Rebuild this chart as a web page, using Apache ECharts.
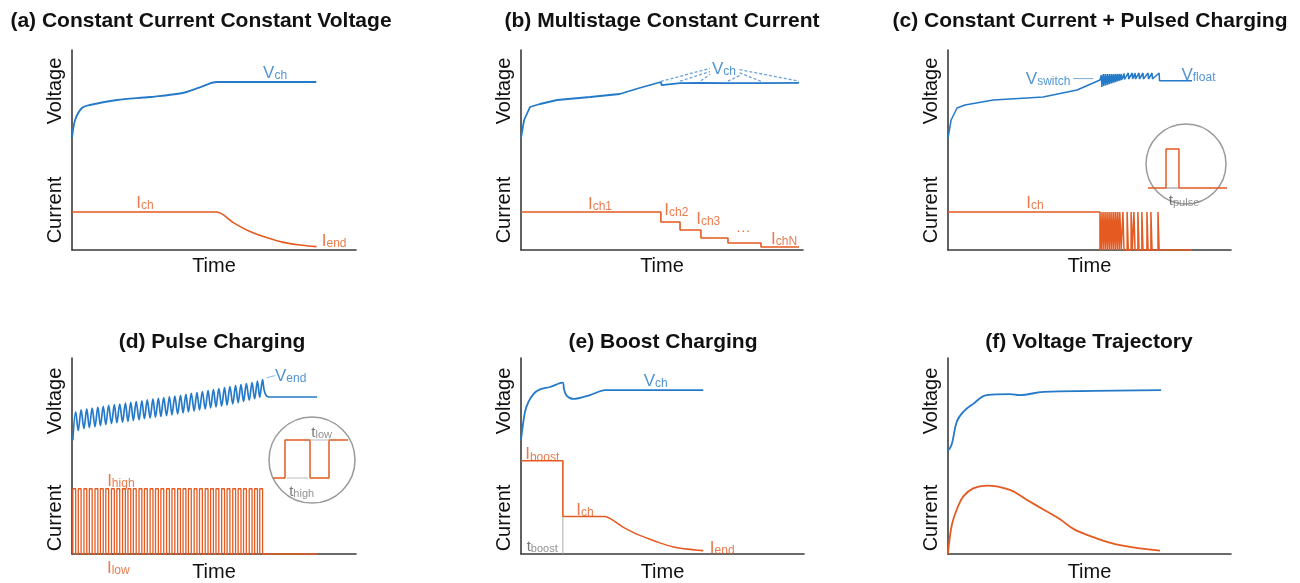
<!DOCTYPE html>
<html>
<head>
<meta charset="utf-8">
<script src="https://cdn.jsdelivr.net/npm/echarts@6/dist/echarts.min.js"></script>
<style>
html, body { margin: 0; background: #fff; }
#chart { width: 1300px; height: 583px; }
</style>
</head>
<body>
<div id="chart"></div>
<script>
// all panels use a schematic 0..100 time axis and 0..100 signal axis

// (a) constant current constant voltage
const aVoltage = [[0,56],[1.1,65],[3.5,71],[6.3,72.5],[15.8,75],[27.5,76.5],[39,78.5],[45,81.3],[51,84],[86,84]];
const aCurrent = [[0,19],[51,19],[56.8,13.7],[62.7,9.2],[68.5,6.2],[74.4,3.8],[80.3,2.5],[86.1,1.7]];

// (b) multistage constant current
const bVoltage = [[0,56],[1.1,65],[3.2,71.5],[6.7,73],[12.8,75],[24.5,76.5],[35,78],[42,81],[49.6,84],[49.9,82.4],
  [56.3,83.4],[56.4,84.1],[56.7,82.5],[63.7,83.5],[63.8,84.2],[64.1,82.6],[73.3,83.4],[73.4,84.2],[73.7,82.7],
  [85,83.4],[85.1,84],[85.4,82.8],[98.6,83.6]];
const bVchGuides = [
  [[49.6,84.3],[67,90.8]],
  [[56.4,84.4],[67,89.2]],
  [[63.8,84.6],[67,87.8]],
  [[77.5,90.2],[98.6,84.4]],
  [[77.5,88.6],[85.1,84.3]],
  [[77.5,87.2],[73.4,84.4]]
];
const bCurrent = [[0,19],[49.6,19],[49.6,14],[56.4,14],[56.4,10],[63.8,10],[63.8,6],[73.4,6],[73.4,3.5],[85.1,3.5],[85.1,1.5],[98.6,1.5]];

// (c) constant current + pulsed charging
const cVoltagePre = [[0,56],[1.1,65],[3.2,71],[6,72.5],[16,75],[33.6,76.5],[45.6,80],[53.7,85]];
const cCurrentPre = [[0,19],[53.7,19]];
const cIch = 19;
const cPulseStart = [53.7,54.4,55.1,55.8,56.5,57.2,57.9,58.6,59.3,60,60.7,61.8,63.3,64.7,65.7,67.1,68.5,70.3,71.7,74.2];
const cPulseWidth = [0.5,0.5,0.5,0.5,0.5,0.5,0.5,0.5,0.5,0.5,0.5,0.4,0.4,0.4,0.4,0.4,0.4,0.4,0.4,0.4];
const cVPeak = [87.5,88,88,88,88,88,88,88,88,88,88,88.3,88.5,88.5,88.5,88.5,88.5,88.5,88.5,88.5];
const cVBase = [81.5,82,82.3,82.6,83,83.3,83.6,84,84.3,84.6,85,85.3,85.5,85.5,85.5,85.5,85.5,85.5,85.5,84.6];
const cEnd = 86.2;
const cVFloat = 84.6;
const cSwitchLeader = [[44.3,85.7],[51.4,85.7]];
const cInsetWave = [[0,0],[22.8,0],[22.8,100],[39.2,100],[39.2,0],[100,0]];
const cInsetPulseMark = [[22.8,0],[39.2,0]];

// (d) pulse charging
const dPulseStart = [0.3,2.2,4.2,6.1,8.1,10,11.9,13.9,15.8,17.8,19.7,21.6,23.6,25.5,27.5,29.4,31.3,33.3,35.2,37.2,
  39.1,41,43,44.9,46.9,48.8,50.7,52.7,54.6,56.6,58.5,60.4,62.4,64.3,66.1];
const dHighWidth = 1.0;
const dHigh = 33.3;
const dEnd = 86.3;
const dVPeak = [72.5,73.5,74,74.5,75,75.3,75.8,76.2,76.5,77,77.4,77.8,78.2,78.6,79,79.4,79.8,80.2,80.6,81,
  81.5,82,82.4,82.9,83.4,83.9,84.4,84.9,85.4,85.9,86.4,87,87.5,88.2,89];
const dVTrough = [58,63,64,64.5,65,65.5,66,66.5,67,67.3,67.7,68.1,68.5,69,69.4,69.8,70.2,70.6,71,71.5,
  72,72.5,73,73.5,74,74.5,75,75.5,76,76.6,77.2,77.8,78.5,79.2,80];
const dVTail = [[67.6,84],[68.3,81],[69.3,80.1],[86.3,80.1]];
const dEndLeader = [[68.5,89.9],[71.5,91]];
const dInsetWave = [[3.75,0],[18.75,0],[18.75,100],[50,100],[50,0],[73.75,0],[73.75,100],[97.5,100]];
const dInsetHighMark = [[21.25,0],[47.5,0]];
const dInsetLowMark = [[50,100],[73.75,100]];

// (e) boost charging
const eVoltage = [[0,58.2],[1.4,72.5],[2.6,77.5],[4.4,81.6],[6.7,84],[10.2,85.2],[14.7,87.4],[15.2,84.1],[16.1,80.8],
  [18.5,79.1],[24.4,81.1],[29.7,83.6],[64.4,83.6]];
const eCurrent = [[0,47.6],[14.8,47.6],[14.8,19.1],[29.7,19.1],[36.2,13.6],[42,9.5],[53.8,3.6],[64.4,1.7]];
const eBoostMark = [[14.8,0],[14.8,19.1]];

// (f) voltage trajectory
const fVoltage = [[0,52.7],[1.3,55.9],[3.1,67.5],[5.4,72.5],[8.9,76.6],[13.7,81.1],[21.9,81.6],[25.4,81.1],[33.7,82.7],[51.3,83.2],[75.3,83.6]];
const fCurrent = [[0,0],[1.3,14.4],[3.1,22.7],[5.4,29.4],[8.9,33.5],[13.7,34.9],[21.9,32.7],[27.8,27.7],[33.7,22.7],
  [39.6,17.7],[44.3,12.8],[51.3,8.6],[60.8,4.5],[74.9,1.7]];

// annotations: [x, y, text]
const aLabels = [[71.5,89,'{vm|V}{vs|ch}'],[25.7,24,'{im|I}{is|ch}'],[92.3,5,'{im|I}{is|end}']];
const bLabels = [[72,91,'{vm|V}{vs|ch}'],[28,23.8,'{im|I}{is|ch1}'],[55.1,20.5,'{im|I}{is|ch2}'],[66.4,16,'{im|I}{is|ch3}'],
  [78.8,11,'{io|…}'],[93.3,6.3,'{im|I}{is|chN}']];
const cLabels = [[35.4,86.3,'{vm|V}{vs|switch}'],[88.5,88,'{vm|V}{vs|float}'],[30.7,24.2,'{im|I}{is|ch}']];
const cInsetLabels = [[45.6,-31,'{tm|t}{ts|pulse}']];
const dLabels = [[77,91.5,'{vm|V}{vs|end}'],[17.2,37.7,'{im|I}{is|high}'],[16.3,-6.3,'{im|I}{is|low}']];
const dInsetLabels = [[64.6,122,'{tm|t}{ts|low}'],[39.6,-33,'{tm|t}{ts|high}']];
const eLabels = [[47.6,89,'{vm|V}{vs|ch}'],[7.5,51.4,'{im|I}{is|boost}'],[22.6,23,'{im|I}{is|ch}'],[71.1,3.6,'{im|I}{is|end}'],
  [7.5,4,'{tm|t}{ts|boost}']];

const titles = ['(a) Constant Current Constant Voltage','(b) Multistage Constant Current','(c) Constant Current + Pulsed Charging',
  '(d) Pulse Charging','(e) Boost Charging','(f) Voltage Trajectory'];

// build pulse shapes
const cVoltage = cVoltagePre.slice();
const cCurrent = cCurrentPre.slice();
cPulseStart.forEach((t, i) => {
  const w = cPulseWidth[i];
  cVoltage.push([t + w, cVPeak[i]], [t + w + 0.15, cVBase[i]]);
  cCurrent.push([t, 0], [t, cIch], [t + w, cIch], [t + w, 0]);
});
cVoltage.push([cEnd, cVFloat]);
cCurrent.push([cEnd, 0]);

const dVoltage = [];
const dCurrent = [];
dPulseStart.forEach((t, i) => {
  dVoltage.push([t, dVTrough[i]], [t + dHighWidth, dVPeak[i]]);
  dCurrent.push([t, 0], [t, dHigh], [t + dHighWidth, dHigh], [t + dHighWidth, 0]);
});
dVoltage.push(...dVTail);
dCurrent.push([dEnd, 0]);

const BLUE = '#2479c9', ORANGE = '#e55a21', GREY = '#8c8c8c', AXIS = '#3a3a3a';
const FONT = 'Liberation Sans, Arial, sans-serif';

const grids = [
  {left: 72, top: 50, width: 284, height: 200},
  {left: 521, top: 50, width: 282, height: 200},
  {left: 948, top: 50, width: 283, height: 200},
  {left: 72, top: 358, width: 284, height: 201},
  {left: 521, top: 358, width: 283, height: 201},
  {left: 948, top: 358, width: 283, height: 201},
  {left: 1148, top: 149, width: 79, height: 39},   // inset (c)
  {left: 270, top: 440, width: 80, height: 38}     // inset (d)
];

const RICH = {
  vm: {fontFamily: FONT, fontSize: 17, color: BLUE, verticalAlign: 'bottom', lineHeight: 20},
  vs: {fontFamily: FONT, fontSize: 12, color: BLUE, verticalAlign: 'bottom', lineHeight: 12},
  im: {fontFamily: FONT, fontSize: 17, color: ORANGE, verticalAlign: 'bottom', lineHeight: 20},
  is: {fontFamily: FONT, fontSize: 12, color: ORANGE, verticalAlign: 'bottom', lineHeight: 12},
  io: {fontFamily: FONT, fontSize: 15, color: ORANGE},
  tm: {fontFamily: FONT, fontSize: 15, color: '#555', verticalAlign: 'bottom', lineHeight: 17},
  ts: {fontFamily: FONT, fontSize: 11, color: '#777', verticalAlign: 'bottom', lineHeight: 11}
};

function line(g, data, color, width, extra) {
  return Object.assign({
    type: 'line', xAxisIndex: g, yAxisIndex: g, data: data, symbol: 'none',
    silent: true, animation: false, clip: false,
    lineStyle: {color: color, width: width}
  }, extra || {});
}
function labels(g, items) {
  return {
    type: 'scatter', xAxisIndex: g, yAxisIndex: g, symbolSize: 1, silent: true, animation: false, clip: false,
    itemStyle: {color: 'rgba(0,0,0,0)'}, z: 5,
    data: items.map(it => ({value: [it[0], it[1]], label: {formatter: it[2]}})),
    label: {show: true, position: 'inside', rich: RICH}
  };
}

const xAxis = grids.map((g, i) => ({
  type: 'value', gridIndex: i, min: 0, max: 100,
  axisLine: {show: i < 6, onZero: false, lineStyle: {color: AXIS, width: 1.6}},
  axisTick: {show: false}, axisLabel: {show: false}, splitLine: {show: false},
  name: i < 6 ? 'Time' : '', nameLocation: 'middle', nameGap: i < 3 ? 6 : 8,
  nameTextStyle: {fontFamily: FONT, fontSize: 20, color: '#111'}
}));
const yAxis = grids.map((g, i) => ({
  type: 'value', gridIndex: i, min: 0, max: 100,
  axisLine: {show: i < 6, onZero: false, lineStyle: {color: AXIS, width: 1.6}},
  axisTick: {show: false}, axisLabel: {show: false}, splitLine: {show: false}
}));

const titlePos = [[201, 11], [662, 11], [1090, 11], [212, 332], [663, 332], [1089, 332]];
const yLabelPos = [[55, 91, 210], [504, 91, 210], [931, 91, 210], [55, 401, 518], [504, 401, 518], [931, 401, 518]];

const graphic = [];
yLabelPos.forEach(p => {
  [['Voltage', p[1]], ['Current', p[2]]].forEach(t => {
    graphic.push({
      type: 'text', x: p[0], y: t[1], rotation: Math.PI / 2,
      style: {text: t[0], fontFamily: FONT, fontSize: 20, fill: '#111',
        textAlign: 'center', textVerticalAlign: 'middle', align: 'center', verticalAlign: 'middle'}
    });
  });
});
graphic.push({type: 'circle', shape: {cx: 1186, cy: 164, r: 40}, style: {fill: 'none', stroke: '#9a9a9a', lineWidth: 1.5}});
graphic.push({type: 'circle', shape: {cx: 312, cy: 460, r: 43}, style: {fill: 'none', stroke: '#9a9a9a', lineWidth: 1.5}});

const series = [
  line(0, aVoltage, BLUE, 1.8, {smooth: 0.3}),
  line(0, aCurrent, ORANGE, 1.6, {smooth: 0.3}),
  labels(0, aLabels),

  line(1, bVoltage, BLUE, 1.8),
  line(1, bCurrent, ORANGE, 1.6)
];
bVchGuides.forEach(seg => series.push(line(1, seg, '#6aa3dc', 1.3, {lineStyle: {color: '#6aa3dc', width: 1.3, type: [3, 2]}})));
series.push(
  labels(1, bLabels),

  line(2, cVoltage, BLUE, 1.5),
  line(2, cCurrent, ORANGE, 1.5),
  line(2, cSwitchLeader, '#7fa9d6', 1),
  labels(2, cLabels),
  line(6, cInsetWave, ORANGE, 1.5),
  line(6, cInsetPulseMark, GREY, 1.2),
  labels(6, cInsetLabels),

  line(3, dVoltage, BLUE, 1.7, {smooth: 0.35}),
  line(3, dCurrent, ORANGE, 1.3),
  line(3, dEndLeader, '#8fbbe6', 1),
  labels(3, dLabels),
  line(7, dInsetWave, ORANGE, 1.5),
  line(7, dInsetHighMark, '#bbb', 1.2),
  line(7, dInsetLowMark, '#bbb', 1.2),
  labels(7, dInsetLabels),

  line(4, eVoltage, BLUE, 1.8, {smooth: 0.3}),
  line(4, eCurrent, ORANGE, 1.6, {smooth: 0.2}),
  line(4, eBoostMark, '#aaa', 1),
  labels(4, eLabels),

  line(5, fVoltage, BLUE, 1.8, {smooth: 0.4}),
  line(5, fCurrent, ORANGE, 1.8, {smooth: 0.4})
);

const chart = echarts.init(document.getElementById('chart'), null, {renderer: 'canvas'});
chart.setOption({
  animation: false,
  backgroundColor: '#fff',
  title: titles.map((t, i) => ({
    text: t, left: titlePos[i][0], top: titlePos[i][1], textAlign: 'center', padding: 0,
    textStyle: {fontFamily: FONT, fontSize: 21, fontWeight: 'bold', color: '#111'}
  })),
  grid: grids,
  xAxis: xAxis,
  yAxis: yAxis,
  graphic: graphic,
  series: series
});
</script>
</body>
</html>
